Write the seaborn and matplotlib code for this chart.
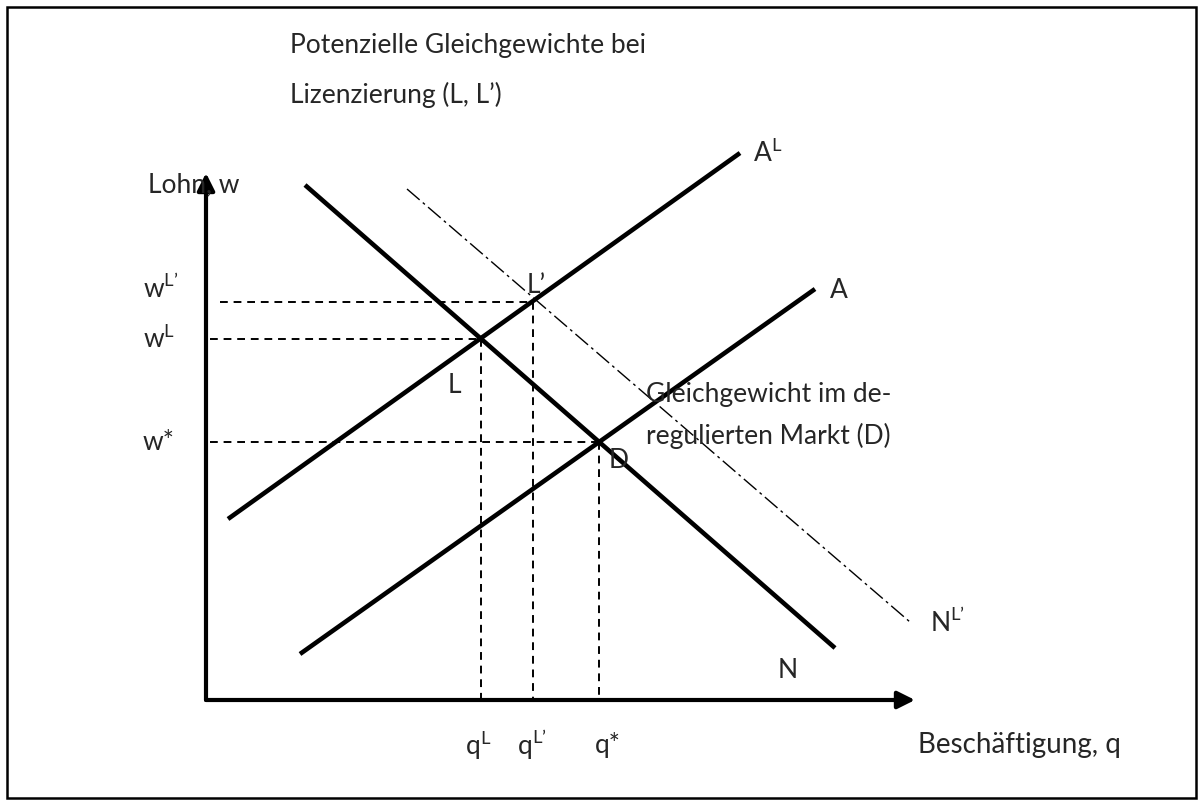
import matplotlib
matplotlib.use("Agg")
import matplotlib.pyplot as plt
import seaborn as sns
from matplotlib.patches import Rectangle

sns.set_style("white")
plt.rcParams['font.family'] = ['Lato', 'DejaVu Sans']
plt.rcParams['mathtext.fontset'] = 'custom'
plt.rcParams['mathtext.rm'] = 'Lato'

# curves (q, w) end points
a_l_q = [2.2, 53.4]
a_l_w = [18.1, 54.7]
a_q = [9.4, 60.9]
a_w = [4.6, 41.1]
n_q = [9.9, 62.9]
n_w = [51.5, 5.2]
nl_q = [20.1, 70.4]
nl_w = [51.1, 7.8]

# equilibria: L, L', D
eq_names = ["L", "L’", "D"]
eq_q = [27.5, 32.7, 39.3]
eq_w = [36.1, 39.8, 25.8]

q_max = 70.9
w_max = 52.7

fig = plt.figure(figsize=(12.03, 8.05), dpi=100)
ax = fig.add_axes([0, 0, 1, 1])
ax.set_xlim(-20.6, 99.7)
ax.set_ylim(-10.5, 70)
ax.axis("off")

# axes with arrows
arrow = dict(arrowstyle="-|>", color="black", lw=3, mutation_scale=26, shrinkA=0, shrinkB=0)
ax.annotate("", xy=(q_max, 0), xytext=(0, 0), arrowprops=arrow)
ax.annotate("", xy=(0, w_max), xytext=(0, 0), arrowprops=arrow)

# helper lines to equilibria
dash = (0, (4, 3))
for i, (q, w) in enumerate(zip(eq_q, eq_w)):
    start = 1.4 if i == 1 else 0.4
    sns.lineplot(x=[start, q], y=[w, w], ax=ax, color="black", lw=1.4, linestyle=dash,
                 estimator=None, sort=False)
    sns.lineplot(x=[q, q], y=[w, 0], ax=ax, color="black", lw=1.4, linestyle=dash,
                 estimator=None, sort=False)

sns.lineplot(x=nl_q, y=nl_w, ax=ax, color="black", lw=1.0, linestyle=(0, (12, 3, 2, 3)),
             estimator=None, sort=False)
for xs, ys in [(a_l_q, a_l_w), (a_q, a_w), (n_q, n_w)]:
    sns.lineplot(x=xs, y=ys, ax=ax, color="black", lw=3.3, solid_capstyle="butt",
                 estimator=None, sort=False)

fs = 19
ax.text(-5.8, 51.5, "Lohn, w", fontsize=fs, va="center", ha="left")
ax.text(-6.3, 41.2, "w$^{\\mathrm{L’}}$", fontsize=fs, va="center")
ax.text(-6.3, 36.1, "w$^{\\mathrm{L}}$", fontsize=fs, va="center")
ax.text(-6.3, 25.8, "w*", fontsize=fs, va="center")
ax.text(27.2, -4.5, "q$^{\\mathrm{L}}$", fontsize=fs, va="center", ha="center")
ax.text(32.6, -4.5, "q$^{\\mathrm{L’}}$", fontsize=fs, va="center", ha="center")
ax.text(40.2, -4.5, "q*", fontsize=fs, va="center", ha="center")
ax.text(71.2, -4.5, "Beschäftigung, q", fontsize=fs + 1, va="center")
ax.text(54.7, 54.7, "A$^{\\mathrm{L}}$", fontsize=fs, va="center")
ax.text(62.4, 41.0, "A", fontsize=fs, va="center")
ax.text(72.4, 7.8, "N$^{\\mathrm{L’}}$", fontsize=fs, va="center")
ax.text(57.2, 3.0, "N", fontsize=fs, va="center")
ax.text(eq_q[1] - 0.6, eq_w[1] + 1.7, eq_names[1], fontsize=fs, va="center")
ax.text(eq_q[0] - 3.3, eq_w[0] - 4.6, eq_names[0], fontsize=fs, va="center")
ax.text(eq_q[2] + 1.0, eq_w[2] - 1.8, eq_names[2], fontsize=fs, va="center")
ax.text(8.4, 65.5, "Potenzielle Gleichgewichte bei", fontsize=fs, va="center")
ax.text(8.4, 60.5, "Lizenzierung (L, L’)", fontsize=fs, va="center")
ax.text(44.0, 30.6, "Gleichgewicht im de-", fontsize=fs, va="center")
ax.text(44.0, 26.4, "regulierten Markt (D)", fontsize=fs, va="center")

fig.patches.append(Rectangle((7 / 1203, 7 / 805), 1189 / 1203, 791 / 805, transform=fig.transFigure,
                             fill=False, edgecolor="black", lw=1.8))

fig.savefig("out.png", dpi=100)
